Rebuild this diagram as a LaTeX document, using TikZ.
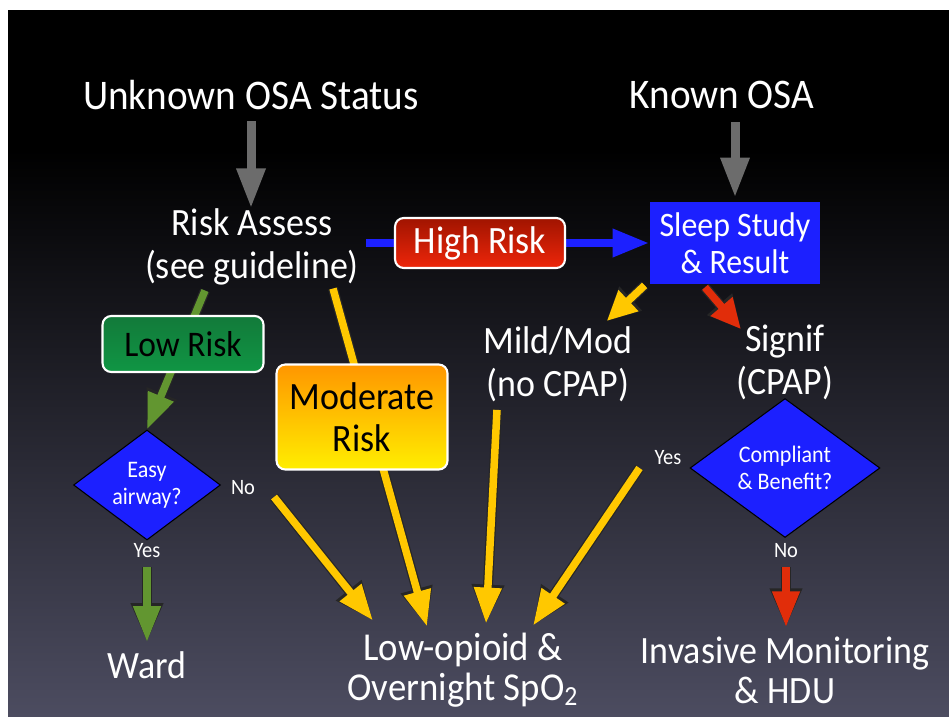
\documentclass[tikz,border=0pt]{standalone}
\usepackage{fontspec}
\setmainfont{Carlito}[FakeStretch=0.93]
\usetikzlibrary{arrows.meta,shapes.geometric,calc}
\pgfdeclarelayer{bg}
\pgfdeclarelayer{back}
\pgfsetlayers{bg,back,main}

\definecolor{slidebot}{RGB}{76,76,96}
\definecolor{blueN}{RGB}{28,32,255}
\definecolor{yel}{RGB}{255,200,0}
\definecolor{grn}{RGB}{98,150,48}
\definecolor{redA}{RGB}{225,45,10}
\definecolor{arrgray}{RGB}{108,108,108}

\tikzset{
  txt/.style={text=white, font=\fontsize{22}{24.4}\selectfont, align=center, inner sep=0pt},
  heading/.style={txt, font=\fontsize{24}{26}\selectfont},
  yesno/.style={text=white, font=\fontsize{12.5}{14}\selectfont, inner sep=0pt},
  riskbox/.style={rounded corners=5pt, draw=white, line width=1.2pt, align=center,
    font=\fontsize{22}{23.8}\selectfont, inner sep=0pt},
  decision/.style={diamond, fill=blueN, draw=black, line width=0.6pt, text=white,
    align=center, inner sep=0pt, font=\fontsize{13.5}{15.3}\selectfont},
  grayarrow/.style={draw=arrgray, line width=1.8mm, -{Triangle[length=8mm,width=5.4mm]}},
  bluearrow/.style={draw=blueN, line width=1.8mm, -{Triangle[length=7.4mm,width=5.2mm]}},
  fatarrow/.style={draw=#1, line width=1.5mm, -{Triangle[length=7.2mm,width=5.2mm]},
    preaction={draw=black!85, line width=2.0mm, -{Triangle[length=7.8mm,width=6.0mm]}}},
  shortarrow/.style={draw=#1, line width=1.5mm, -{Triangle[length=6mm,width=5.4mm]},
    preaction={draw=black!85, line width=2.0mm, -{Triangle[length=6.6mm,width=6.2mm]}}},
}

\begin{document}
\begin{tikzpicture}[x=0.02cm, y=-0.02cm]
  \useasboundingbox (0,0) rectangle (949,716);

  % slide background
  \begin{pgfonlayer}{bg}
    \fill[white] (0,0) rectangle (949,716);
    \fill[black] (8,10) rectangle (949,151);
    \shade[top color=black, bottom color=slidebot] (8,150) rectangle (949,716);
  \end{pgfonlayer}

  % headings
  \node[heading] (unk) at (251,95) {Unknown OSA Status};
  \node[heading] (known) at (722,95) {Known OSA};

  % risk assessment and risk boxes
  \node[txt] (risk) at (252,247) {Risk Assess\\(see guideline)};
  \node[riskbox, text=white, top color={rgb,255:red,160;green,20;blue,0}, bottom color={rgb,255:red,238;green,38;blue,10},
    minimum width=3.4cm, minimum height=1.0cm] (high) at (480,243) {High Risk};
  \node[riskbox, text=black, top color={rgb,255:red,18;green,122;blue,58}, bottom color={rgb,255:red,16;green,150;blue,68},
    minimum width=3.22cm, minimum height=1.12cm, font=\fontsize{20.5}{22}\selectfont] (low) at (183,344) {Low Risk};
  \node[riskbox, text=black, top color={rgb,255:red,255;green,150;blue,0}, bottom color={rgb,255:red,255;green,238;blue,0},
    minimum width=3.42cm, minimum height=2.1cm] (mod) at (362,417) {Moderate\\Risk};

  % sleep study branch
  \node[fill=blueN, text=white, align=center, inner sep=0pt, minimum width=3.4cm, minimum height=1.64cm,
    font=\fontsize{19.5}{21}\selectfont] (sleep) at (735,243) {Sleep Study\\\& Result};
  \node[txt] (mild) at (558,364) {Mild/Mod\\(no CPAP)};
  \node[txt] (signif) at (785,362) {Signif\\(CPAP)};

  % decisions
  \node[decision, aspect=1.34, minimum width=2.94cm, minimum height=2.2cm] (easy) at (147,485) {Easy\\airway?};
  \node[decision, aspect=1.37, minimum width=3.8cm, minimum height=2.78cm] (comp) at (785,468) {Compliant\\\& Benefit?};
  \node[yesno] (noA) at (243,488) {No};
  \node[yesno] (yesA) at (147,551) {Yes};
  \node[yesno] (yesB) at (668,458) {Yes};
  \node[yesno] (noB) at (786,551) {No};

  % outcomes
  \node[txt] (ward) at (147,665) {Ward};
  \node[txt, font=\fontsize{22.5}{22.7}\selectfont] (lowop) at (463,670) {Low-opioid \&\\Overnight SpO\textsubscript{2}};
  \node[txt, font=\fontsize{22}{22.7}\selectfont] (hdu) at (785,670) {Invasive Monitoring\\\& HDU};

  % connectors
  \begin{pgfonlayer}{back}
    \draw[grayarrow, shorten <=2.2mm] (unk.south) -- (unk.south |- risk.north);
    \draw[grayarrow, shorten <=2.6mm, shorten >=0.8mm] (sleep.north |- known.south) -- (sleep.north);
    \draw[bluearrow, shorten <=1.4mm] (risk.east |- sleep.west) -- (sleep.west);
    \draw[shortarrow=yel] ($(sleep.south west)+(-5,1)$) -- ($(mild.north east)+(-26,-5)$);
    \draw[shortarrow=redA] ($(sleep.south)+(-30,3)$) -- ($(signif.north)+(-44,5)$);
    \draw[fatarrow=grn] ($(risk.south)+(-47,5)$) -- (easy.north);
    \draw[fatarrow=yel] ($(risk.south)+(81,3)$) -- ($(lowop.north)+(-36,-6)$);
    \draw[fatarrow=yel] ($(easy.east)+(53,12)$) -- ($(lowop.north)+(-90,-12)$);
    \draw[fatarrow=yel] ($(mild.south)+(-61,8)$) -- ($(lowop.north)+(23,-9)$);
    \draw[fatarrow=yel] ($(comp.west)+(-50,0)$) -- ($(lowop.north)+(70,-7)$);
    \draw[fatarrow=grn, shorten <=1.8mm, shorten >=1.8mm] (yesA.south) -- (yesA.south |- ward.north);
    \draw[fatarrow=redA, shorten <=1.8mm, shorten >=1.8mm] (noB.south) -- (noB.south |- hdu.north);
  \end{pgfonlayer}
\end{tikzpicture}
\end{document}
